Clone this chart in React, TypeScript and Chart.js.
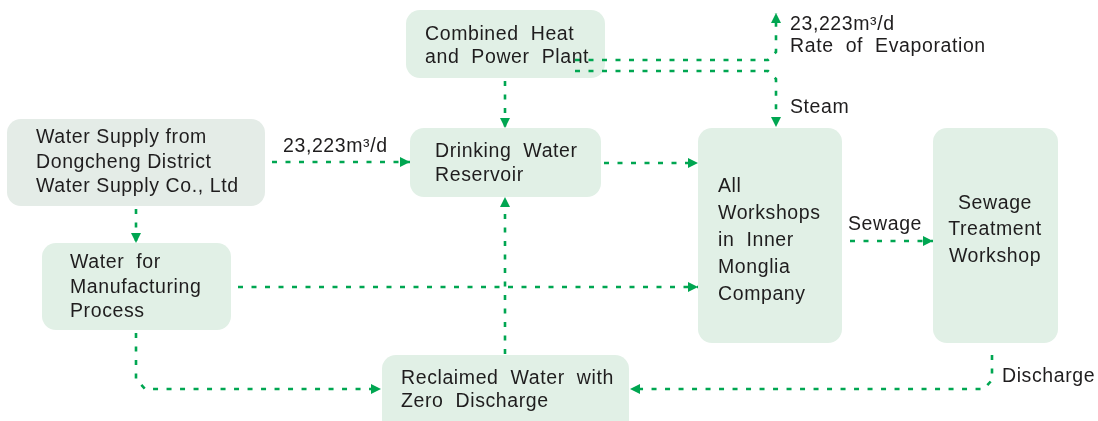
import React, { useEffect, useRef } from "react";
import { Chart, registerables } from "chart.js";

Chart.register(...registerables);

// ---- content ----
const nodeNames = ["chp", "supply", "manufacturing", "drinking", "workshops", "sewageTreatment", "reclaimed"];
const nodeLines: string[][] = [
  ["Combined  Heat", "and  Power  Plant"],
  ["Water Supply from", "Dongcheng District", "Water Supply Co., Ltd"],
  ["Water  for", "Manufacturing", "Process"],
  ["Drinking  Water", "Reservoir"],
  ["All", "Workshops", "in  Inner", "Monglia", "Company"],
  ["Sewage", "Treatment", "Workshop"],
  ["Reclaimed  Water  with", "Zero  Discharge"],
];
const flowLabels = ["23,223m³/d", "23,223m³/d", "Rate  of  Evaporation", "Steam", "Sewage", "Discharge"];

// ---- layout (data units of the x/y scales) ----
const nodeBoxes: number[][] = [
  [406, 10, 199, 68],
  [7, 119, 258, 87],
  [42, 243, 189, 87],
  [410, 128, 191, 69],
  [698, 128, 144, 215],
  [933, 128, 125, 215],
  [382, 355, 247, 80],
];
const nodeTextX = [425, 36, 70, 435, 718, 995, 401];
const nodeAlign = ["left", "left", "left", "left", "left", "center", "left"];
const nodeBaselines: number[][] = [
  [40, 63],
  [143, 168, 192],
  [268, 293, 317],
  [157, 181],
  [192, 219, 246, 273, 300],
  [209, 235, 262],
  [384, 407],
];
const nodeFills = ["#e1f0e6", "#e4ece7", "#e1f0e6", "#e1f0e6", "#e1f0e6", "#e1f0e6", "#e1f0e6"];
const flowLabelPos: number[][] = [
  [283, 152],
  [790, 30],
  [790, 52],
  [790, 113],
  [848, 230],
  [1002, 382],
];
const edges: number[][][] = [
  [[505, 81], [505, 128]],
  [[575, 60], [768, 60], [776, 52], [776, 13]],
  [[575, 71], [768, 71], [776, 79], [776, 127]],
  [[272, 162], [410, 162]],
  [[136, 209], [136, 243]],
  [[604, 163], [698, 163]],
  [[238, 287], [698, 287]],
  [[136, 333], [136, 379], [145, 389], [381, 389]],
  [[505, 354], [505, 197]],
  [[850, 241], [933, 241]],
  [[992, 355], [992, 380], [984, 389], [630, 389]],
];

const GREEN = "#00a651";
const TEXT = "#1f1d1e";
const FONT = "19.5px 'Liberation Sans', Arial, sans-serif";

const diagramPlugin = {
  id: "diagram",
  beforeDatasetsDraw(chart: any) {
    const { ctx, scales } = chart;
    const xs = scales.x, ys = scales.y;
    ctx.save();
    nodeBoxes.forEach((b, i) => {
      const x0 = xs.getPixelForValue(b[0]);
      const y0 = ys.getPixelForValue(b[1]);
      const x1 = xs.getPixelForValue(b[0] + b[2]);
      const y1 = ys.getPixelForValue(b[1] + b[3]);
      ctx.beginPath();
      ctx.roundRect(x0, y0, x1 - x0, y1 - y0, 14);
      ctx.fillStyle = nodeFills[i];
      ctx.fill();
    });
    ctx.restore();
  },
  afterDatasetsDraw(chart: any) {
    const { ctx, scales } = chart;
    const xs = scales.x, ys = scales.y;
    ctx.save();
    // arrowheads
    edges.forEach((pts) => {
      const a = pts[pts.length - 2], b = pts[pts.length - 1];
      const ax = xs.getPixelForValue(a[0]), ay = ys.getPixelForValue(a[1]);
      const bx = xs.getPixelForValue(b[0]), by = ys.getPixelForValue(b[1]);
      const ang = Math.atan2(by - ay, bx - ax);
      const L = 10, W = 5;
      ctx.beginPath();
      ctx.moveTo(bx, by);
      ctx.lineTo(bx - L * Math.cos(ang) + W * Math.sin(ang), by - L * Math.sin(ang) - W * Math.cos(ang));
      ctx.lineTo(bx - L * Math.cos(ang) - W * Math.sin(ang), by - L * Math.sin(ang) + W * Math.cos(ang));
      ctx.closePath();
      ctx.fillStyle = GREEN;
      ctx.fill();
    });
    // texts
    ctx.font = FONT;
    ctx.fillStyle = TEXT;
    ctx.textBaseline = "alphabetic";
    (ctx as any).letterSpacing = "0.6px";
    nodeNames.forEach((_, i) => {
      ctx.textAlign = nodeAlign[i] as CanvasTextAlign;
      nodeLines[i].forEach((line, j) => {
        ctx.fillText(line, xs.getPixelForValue(nodeTextX[i]), ys.getPixelForValue(nodeBaselines[i][j]));
      });
    });
    ctx.textAlign = "left";
    flowLabels.forEach((t, i) => {
      ctx.fillText(t, xs.getPixelForValue(flowLabelPos[i][0]), ys.getPixelForValue(flowLabelPos[i][1]));
    });
    ctx.restore();
  },
};

export default function App() {
  const ref = useRef<HTMLCanvasElement>(null);
  useEffect(() => {
    document.body.style.margin = "0";
    document.body.style.background = "#ffffff";
    const chart = new Chart(ref.current!, {
      type: "scatter",
      data: {
        datasets: edges.map((pts) => ({
          data: pts.map((p) => ({ x: p[0], y: p[1] })),
          showLine: true,
          borderColor: GREEN,
          borderWidth: 2.6,
          borderDash: [5, 8.5],
          pointRadius: 0,
          pointHoverRadius: 0,
          fill: false,
          tension: 0,
        })),
      },
      options: {
        responsive: false,
        animation: false,
        events: [],
        layout: { padding: 0 },
        plugins: { legend: { display: false }, tooltip: { enabled: false }, title: { display: false } },
        scales: {
          x: { type: "linear", min: 0, max: 1098, display: false },
          y: { type: "linear", min: 0, max: 421, reverse: true, display: false },
        },
      },
      plugins: [diagramPlugin],
    });
    return () => chart.destroy();
  }, []);
  return (
    <div style={{ width: 1098, height: 421 }}>
      <canvas ref={ref} width={1098} height={421} style={{ display: "block" }} />
    </div>
  );
}
